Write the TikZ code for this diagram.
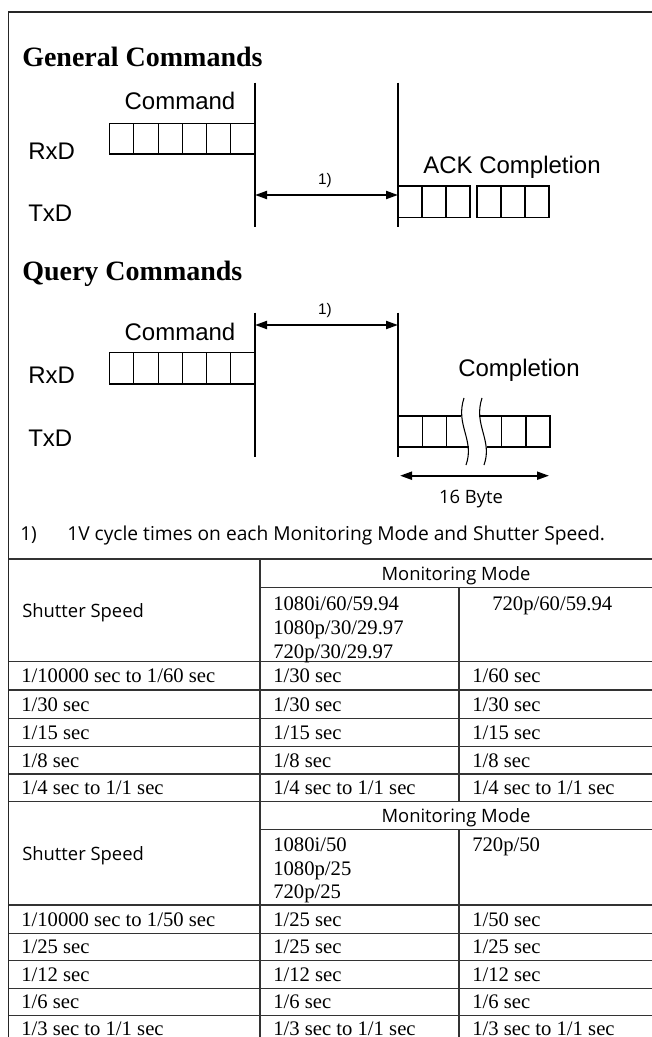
\documentclass[tikz,border=0pt]{standalone}
\usepackage{fontspec}
\setmainfont{Liberation Serif}
\newfontfamily\helv{Liberation Sans}
\newfontfamily\myr{Open Sans}
\usetikzlibrary{arrows.meta}
\begin{document}
\begin{tikzpicture}[x=0.75pt,y=-0.75pt,
  frame/.style={line width=1.1pt, draw=black!85},
  tline/.style={line width=1.1pt, draw=black!80},
  sig/.style={line width=0.8pt, draw=black},
  cellline/.style={line width=0.8pt, draw=black},
  dimarrow/.style={line width=1.5pt, {Triangle[length=9pt,width=6pt]}-{Triangle[length=9pt,width=6pt]}},
  heading/.style={anchor=base west, inner sep=0pt, font=\fontsize{21}{24}\selectfont\bfseries},
  lbl/.style={anchor=base west, inner sep=0pt, font=\helv\fontsize{18}{21}\selectfont},
  small/.style={anchor=base, inner sep=0pt, font=\helv\fontsize{11.5}{13}\selectfont},
  note/.style={anchor=base west, inner sep=0pt, font=\myr\fontsize{14.4}{16}\selectfont},
  sans/.style={anchor=base west, inner sep=0pt, font=\myr\fontsize{13.8}{16}\selectfont},
  cell/.style={anchor=base west, inner sep=0pt, font=\fontsize{15.5}{18}\selectfont}]
\useasboundingbox (0,0) rectangle (652,1037);
\clip (0,0) rectangle (652,1037);

% outer frame
\draw[frame] (8.5,1040) -- (8.5,12) -- (653,12);

% ===== General Commands =====
\node[heading] (hg) at (22,66.7) {General Commands};
\coordinate (g1t) at (255,82.7); \coordinate (g1b) at (255,226.7);
\coordinate (g2t) at (398,82.7); \coordinate (g2b) at (398,226.7);
\draw[sig] (g1t) -- (g1b);
\draw[sig] (g2t) -- (g2b);
\node[lbl, anchor=base] (gcmd) at (180,110) {Command};
\node[lbl] (grx) at (28,159.3) {RxD};
\node[lbl] (gtx) at (28,221.7) {TxD};
\node[lbl] (gack) at (423,173.3) {ACK Completion};
% command cells
\foreach \i in {0,...,5} \draw[cellline] (109.6+\i*24.23,123.3) rectangle (109.6+\i*24.23+24.23,154);
% ACK cells
\foreach \i in {0,1,2} \draw[cellline] (398+\i*24,186) rectangle (398+\i*24+24,217.3);
\foreach \i in {0,1,2} \draw[cellline] (477+\i*24,186) rectangle (477+\i*24+24,217.3);
\coordinate (ga1) at (255,195); \coordinate (ga2) at (398,195);
\draw[dimarrow] (ga1) -- (ga2);
\node[small] (gn) at (325,185) {1)};

% ===== Query Commands =====
\node[heading] (hq) at (22,281) {Query Commands};
\coordinate (q1t) at (255,312.7); \coordinate (q1b) at (255,456.7);
\coordinate (q2t) at (398,312.7); \coordinate (q2b) at (398,456.7);
\draw[sig] (q1t) -- (q1b);
\draw[sig] (q2t) -- (q2b);
\node[lbl, anchor=base] (qcmd) at (180,340) {Command};
\node[lbl] (qrx) at (28,383.3) {RxD};
\node[lbl] (qtx) at (28,446.7) {TxD};
\node[lbl] (qcomp) at (458,376.7) {Completion};
\foreach \i in {0,...,5} \draw[cellline] (109.6+\i*24.23,352.7) rectangle (109.6+\i*24.23+24.23,384);
\coordinate (qa1) at (255,325); \coordinate (qa2) at (398,325);
\draw[dimarrow] (qa1) -- (qa2);
\node[small] (qn) at (325,314) {1)};
% completion cells with break
\draw[cellline] (461,416) -- (398,416) (398,447) -- (469,447);
\draw[cellline] (422.7,416) -- (422.7,447) (446.7,416) -- (446.7,447);
\draw[cellline] (479,416) -- (550,416) -- (550,447) -- (487,447);
\draw[cellline] (501.7,416) -- (501.7,447) (526,416) -- (526,447);
\draw[cellline] (464,398) .. controls (455,425) and (475,440) .. (466,465);
\draw[cellline] (482,398) .. controls (473,425) and (493,440) .. (484,465);
\coordinate (b1) at (400,475.7); \coordinate (b2) at (549,475.7);
\draw[dimarrow] (b1) -- (b2);
\node[sans, anchor=base] (nb) at (471,503) {16 Byte};

% footnote
\node[note] (fn1) at (20,540) {1)};
\node[note] (fn2) at (67,540) {1V cycle times on each Monitoring Mode and Shutter Speed.};

% ===== Tables =====
\foreach \y in {559,661.7,690,718.3,746.7,774,801.7,905,933.3,960.7,988.3,1015.7}
  \draw[tline] (8.5,\y) -- (653,\y);
\draw[tline] (260,587.7) -- (653,587.7);
\draw[tline] (260,829.3) -- (653,829.3);
\draw[tline] (260,559) -- (260,1040);
\draw[tline] (459,587.7) -- (459,801.7);
\draw[tline] (459,829.3) -- (459,1040);

% table 1
\node[sans] (t1s) at (22,617) {Shutter Speed};
\node[sans, anchor=base] (t1m) at (456,580) {Monitoring Mode};
\node[cell] (t1a) at (273,610) {1080i/60/59.94};
\node[cell] (t1b) at (273,634.3) {1080p/30/29.97};
\node[cell] (t1c) at (273,658.3) {720p/30/29.97};
\node[cell] (t1d) at (492,610) {720p/60/59.94};
\foreach \t/\a/\b/\c in {682.7/1\slash10000 sec to 1\slash60 sec/1\slash30 sec/1\slash60 sec,
                          711/1\slash30 sec/1\slash30 sec/1\slash30 sec,
                          739.3/1\slash15 sec/1\slash15 sec/1\slash15 sec,
                          767.2/1\slash8 sec/1\slash8 sec/1\slash8 sec,
                          794.7/1\slash4 sec to 1\slash1 sec/1\slash4 sec to 1\slash1 sec/1\slash4 sec to 1\slash1 sec}{
  \node[cell] at (21,\t) {\a};
  \node[cell] at (273,\t) {\b};
  \node[cell] at (472,\t) {\c};
}

% table 2
\node[sans] (t2s) at (22,860) {Shutter Speed};
\node[sans, anchor=base] (t2m) at (456,822) {Monitoring Mode};
\node[cell] (t2a) at (273,851.5) {1080i/50};
\node[cell] (t2b) at (273,875) {1080p/25};
\node[cell] (t2c) at (273,898.5) {720p/25};
\node[cell] (t2d) at (472,851.5) {720p/50};
\foreach \t/\a/\b/\c in {926/1\slash10000 sec to 1\slash50 sec/1\slash25 sec/1\slash50 sec,
                          953.8/1\slash25 sec/1\slash25 sec/1\slash25 sec,
                          981.3/1\slash12 sec/1\slash12 sec/1\slash12 sec,
                          1008.8/1\slash6 sec/1\slash6 sec/1\slash6 sec,
                          1035/1\slash3 sec to 1\slash1 sec/1\slash3 sec to 1\slash1 sec/1\slash3 sec to 1\slash1 sec}{
  \node[cell] at (21,\t) {\a};
  \node[cell] at (273,\t) {\b};
  \node[cell] at (472,\t) {\c};
}
\end{tikzpicture}
\end{document}
